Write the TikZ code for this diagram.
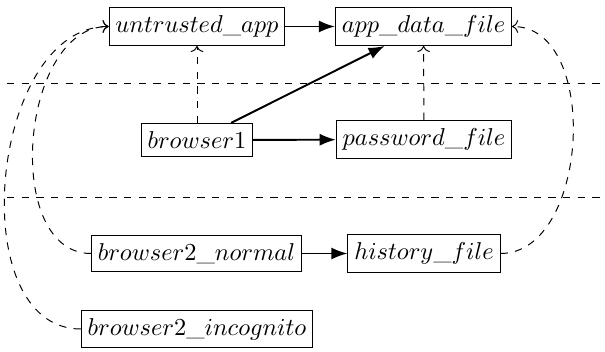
\documentclass[tikz,border=0pt]{standalone}
\usetikzlibrary{arrows.meta}
\begin{document}
\begin{tikzpicture}[x=0.41pt,y=-0.41pt,
  box/.style={draw,rectangle,inner xsep=2.6pt},
  solidarrow/.style={-Latex,thick},
  dasharrow/.style={->,dashed},
  sep/.style={dashed}]
\useasboundingbox (0,0) rectangle (605,352);
\node[box] (ua) at (197,26.5) {$untrusted\_app$};
\node[box] (adf) at (423.5,26.5) {$app\_data\_file$};
\node[box] (b1) at (197,140) {$browser1$};
\node[box] (pf) at (424,139.5) {$password\_file$};
\node[box] (b2n) at (196.5,253.5) {$browser2\_normal$};
\node[box] (hf) at (424,253.5) {$history\_file$};
\node[box] (b2i) at (197,329) {$browser2\_incognito$};
\coordinate (l1a) at (7,83);
\coordinate (l1b) at (605,83);
\coordinate (l2a) at (7,197);
\coordinate (l2b) at (605,197);
\draw[sep] (l1a) -- (l1b);
\draw[sep] (l2a) -- (l2b);
\draw[solidarrow] (ua) -- (adf);
\draw[solidarrow] (b1) -- (adf);
\draw[solidarrow] (b1) -- (pf);
\draw[solidarrow] (b2n) -- (hf);
\draw[dasharrow] (b1) -- (ua);
\draw[dasharrow] (pf) -- (adf);
\draw[dasharrow] (b2n.west) to[out=180,in=180] (ua.west);
\draw[dasharrow] (b2i.west) to[out=180,in=180] (ua.west);
\draw[dasharrow] (hf.east) to[out=0,in=0] (adf.east);
\end{tikzpicture}
\end{document}
